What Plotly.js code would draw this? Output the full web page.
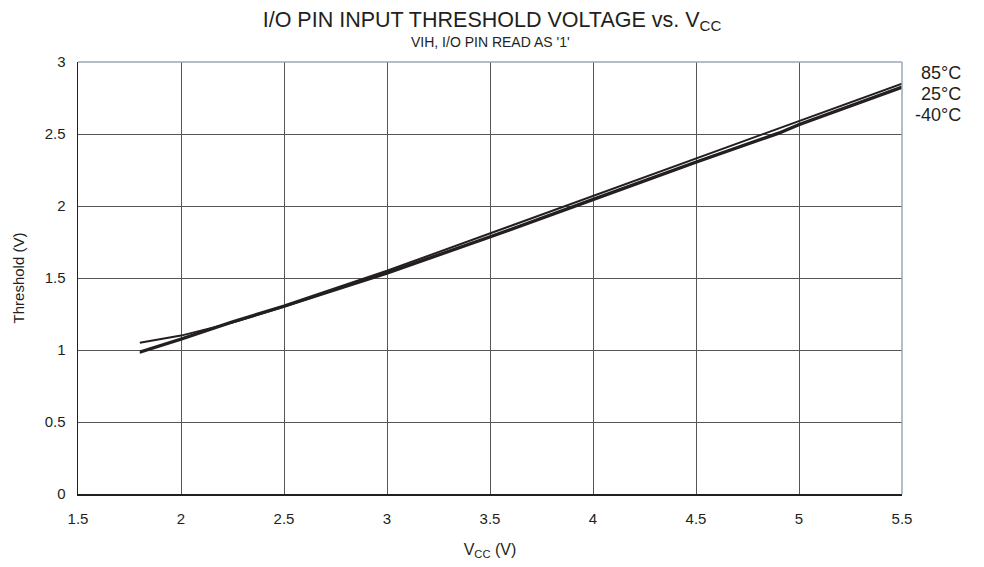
<!DOCTYPE html>
<html>
<head>
<meta charset="utf-8">
<script src="https://cdn.plot.ly/plotly-3.0.1.min.js"></script>
<style>html,body{margin:0;padding:0;background:#fff;}#chart{width:984px;height:567px;}</style>
</head>
<body>
<div id="chart"></div>
<script>
var vcc = [1.8, 2.0, 2.25, 2.5, 3.0, 3.5, 4.0, 4.5, 4.9, 5.0, 5.5];
var t85 = [0.99, 1.08, 1.20, 1.31, 1.55, 1.81, 2.07, 2.33, 2.54, 2.59, 2.85];
var t25 = [0.98, 1.07, 1.19, 1.30, 1.54, 1.79, 2.05, 2.31, 2.51, 2.57, 2.83];
var tm40 = [1.05, 1.10, 1.19, 1.30, 1.53, 1.78, 2.04, 2.30, 2.50, 2.56, 2.82];
var seriesNames = ['85°C', '25°C', '-40°C'];
var xTicks = [1.5, 2, 2.5, 3, 3.5, 4, 4.5, 5, 5.5];
var yTicks = [0, 0.5, 1, 1.5, 2, 2.5, 3];

var ink = '#231f20';
var font = 'Liberation Sans, Arial, sans-serif';
var allY = [t85, t25, tm40];
var traces = allY.map(function (ys, i) {
  return {x: vcc, y: ys, type: 'scatter', mode: 'lines', name: seriesNames[i],
    line: {color: ink, width: 2}, showlegend: false, hoverinfo: 'skip'};
});

var labelY = [0.975, 0.926, 0.877];
var annotations = seriesNames.map(function (n, i) {
  return {text: n, xref: 'paper', yref: 'paper', x: 1.0735, y: labelY[i],
    xanchor: 'right', yanchor: 'middle', showarrow: false,
    font: {family: font, size: 18, color: ink}};
});
annotations.push({text: "VIH, I/O PIN READ AS '1'", xref: 'paper', yref: 'paper',
  x: 0.5, y: 1.0, yshift: 10, xanchor: 'center', yanchor: 'bottom', showarrow: false,
  font: {family: font, size: 14, color: ink}});

var layout = {
  width: 984, height: 567,
  margin: {l: 78, r: 82, t: 62, b: 73},
  paper_bgcolor: '#fff', plot_bgcolor: '#fff',
  title: {text: 'I/O PIN INPUT THRESHOLD VOLTAGE vs. V<sub>CC</sub>', x: 0.5, xanchor: 'center',
    y: 0.966, yanchor: 'middle', font: {family: font, size: 21.5, color: ink}},
  xaxis: {range: [1.5, 5.5], tickvals: xTicks, ticktext: xTicks.map(String),
    showgrid: true, gridcolor: '#555', gridwidth: 1, zeroline: false,
    showline: true, linecolor: ink, linewidth: 1.5, ticks: '', ticklen: 0,
    ticklabelstandoff: 10,
    tickfont: {family: font, size: 15, color: ink},
    title: {text: 'V<sub>CC</sub> (V)', font: {family: font, size: 16, color: ink}, standoff: 18}},
  yaxis: {range: [0, 3], tickvals: yTicks, ticktext: yTicks.map(String),
    showgrid: true, gridcolor: '#555', gridwidth: 1, zeroline: false,
    showline: true, linecolor: ink, linewidth: 1.5, ticks: '', ticklen: 0,
    ticklabelstandoff: 8,
    tickfont: {family: font, size: 15, color: ink},
    title: {text: 'Threshold (V)', font: {family: font, size: 15, color: ink}, standoff: 16}},
  shapes: [
    {type: 'line', xref: 'paper', yref: 'paper', x0: 0, x1: 1, y0: 1, y1: 1, line: {color: '#9aa8b8', width: 1.5}},
    {type: 'line', xref: 'paper', yref: 'paper', x0: 1, x1: 1, y0: 0, y1: 1, line: {color: '#9aa8b8', width: 1.5}}
  ],
  annotations: annotations,
  showlegend: false
};
Plotly.newPlot('chart', traces, layout, {displayModeBar: false, staticPlot: true});
</script>
</body>
</html>
